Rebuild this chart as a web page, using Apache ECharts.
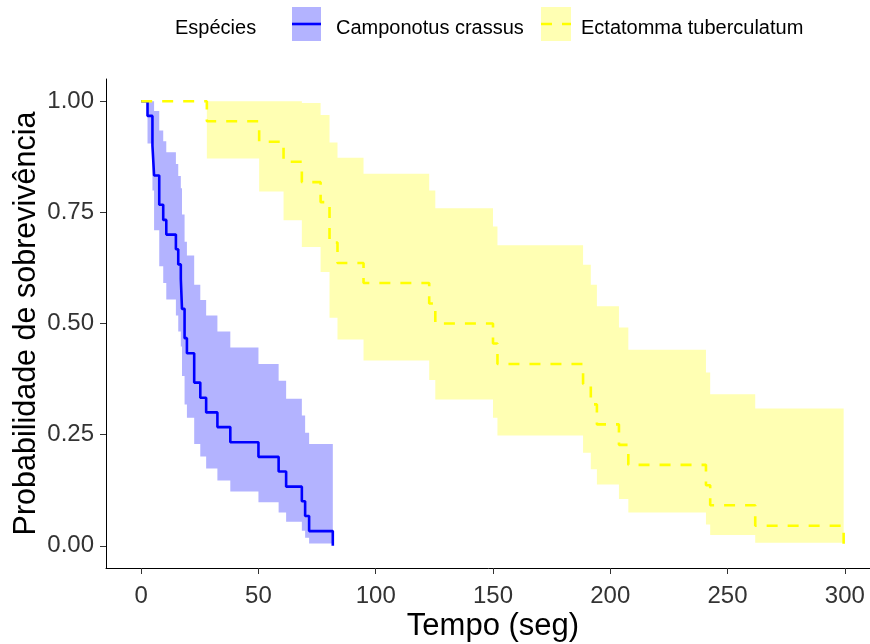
<!DOCTYPE html>
<html>
<head>
<meta charset="utf-8">
<script src="https://cdn.jsdelivr.net/npm/echarts@6/dist/echarts.min.js"></script>
<style>
  html, body { margin: 0; padding: 0; background: #ffffff; }
  #chart { width: 870px; height: 644px; }
</style>
</head>
<body>
<div id="chart"></div>
<script>
// ---- Data ----
const legendTitle = 'Espécies';
const seriesNames = ['Camponotus crassus', 'Ectatomma tuberculatum'];

// Camponotus crassus: Kaplan-Meier steps
const blueTimes = [0, 2.7, 4.8, 5.5, 7.7, 9.4, 10.7, 14.8, 15.8, 16.9, 17.4, 18.5, 19.5, 22.6, 25.2, 27.7, 32.5, 38.0, 50.0, 58.6, 61.8, 68.5, 69.9, 71.6, 81.7];
const blueSurv  = [1, 0.967, 0.9, 0.833, 0.767, 0.733, 0.7, 0.667, 0.633, 0.6, 0.533, 0.467, 0.433, 0.367, 0.333, 0.3, 0.267, 0.233, 0.2, 0.167, 0.133, 0.1, 0.067, 0.033, 0];
// confidence band, one value per interval starting at blueTimes[1..23]
const blueUpper = [1, 1, 0.978, 0.934, 0.910, 0.885, 0.859, 0.832, 0.804, 0.745, 0.684, 0.653, 0.587, 0.553, 0.518, 0.482, 0.446, 0.409, 0.371, 0.331, 0.293, 0.254, 0.229];
const blueLower = [0.905, 0.799, 0.710, 0.629, 0.591, 0.554, 0.518, 0.482, 0.448, 0.382, 0.318, 0.288, 0.229, 0.201, 0.174, 0.147, 0.122, 0.098, 0.075, 0.054, 0.034, 0.018, 0.005];

// Ectatomma tuberculatum: Kaplan-Meier steps
const yelTimes = [0, 28.0, 50.3, 60.7, 68.5, 76.5, 80.3, 83.7, 94.8, 122.8, 125.4, 150.0, 151.9, 188.4, 191.7, 194.3, 203.7, 207.7, 240.8, 242.6, 261.8, 299.5];
const yelSurv  = [1, 0.955, 0.909, 0.864, 0.818, 0.773, 0.682, 0.636, 0.591, 0.545, 0.5, 0.455, 0.409, 0.364, 0.318, 0.273, 0.227, 0.182, 0.136, 0.091, 0.045, 0];
// confidence band, one value per interval starting at yelTimes[1..20]
const yelUpper = [1, 1, 1, 0.996, 0.969, 0.907, 0.873, 0.837, 0.799, 0.759, 0.718, 0.676, 0.632, 0.587, 0.539, 0.491, 0.441, 0.390, 0.341, 0.309];
const yelLower = [0.871, 0.797, 0.732, 0.672, 0.616, 0.513, 0.464, 0.417, 0.373, 0.329, 0.288, 0.248, 0.209, 0.172, 0.138, 0.105, 0.075, 0.048, 0.024, 0.007];

// Axis ticks
const xTicks = [0, 50, 100, 150, 200, 250, 300];
const yTicks = [0, 0.25, 0.5, 0.75, 1];
const xTitle = 'Tempo (seg)';
const yTitle = 'Probabilidade de sobrevivência';

// ---- Styles ----
const BLUE = '#0000FF', BLUE_BAND = '#B3B3FF';
const YEL = '#FFFF00', YEL_BAND = '#FFFFB3';
const FONT = 'Liberation Sans, Arial, sans-serif';

function curve(times, surv) { return times.map((t, i) => [t, surv[i]]); }

// Band intervals: [tStart, tEnd, lower, upper]
function bandIntervals(times, lower, upper) {
  return upper.map((u, i) => [times[i + 1], times[i + 2], lower[i], u]);
}

// One polygon per band, every vertex mapped through the axis scales (api.coord)
function bandSeries(times, lower, upper, color) {
  const iv = bandIntervals(times, lower, upper);
  return {
    type: 'custom', silent: true, z: 1,
    data: [[iv[0][0], iv[0][2]]],
    encode: { x: 0, y: 1 },
    renderItem: function (params, api) {
      const pts = [];
      iv.forEach(d => { pts.push(api.coord([d[0], d[3]])); pts.push(api.coord([d[1], d[3]])); });
      for (let i = iv.length - 1; i >= 0; i--) {
        pts.push(api.coord([iv[i][1], iv[i][2]]));
        pts.push(api.coord([iv[i][0], iv[i][2]]));
      }
      return { type: 'polygon', shape: { points: pts }, style: { fill: color } };
    }
  };
}

const chart = echarts.init(document.getElementById('chart'), null, { renderer: 'canvas' });

const option = {
  animation: false,
  backgroundColor: '#ffffff',
  textStyle: { fontFamily: FONT },
  grid: { left: 106, top: 79, width: 774, height: 489, containLabel: false, outerBoundsMode: 'none' },
  xAxis: {
    type: 'value', min: -15, max: 315,
    name: xTitle, nameLocation: 'middle', nameGap: 43, nameMoveOverlap: false,
    nameTextStyle: { fontSize: 31, color: '#000', fontFamily: FONT },
    axisLine: { show: true, onZero: false, lineStyle: { color: '#000', width: 1 } },
    axisTick: { show: true, length: 6, customValues: xTicks, lineStyle: { color: '#333' } },
    axisLabel: { customValues: xTicks, fontSize: 24, color: '#333', margin: 16, fontFamily: FONT },
    splitLine: { show: false }
  },
  yAxis: {
    type: 'value', min: -0.05, max: 1.05,
    name: yTitle, nameLocation: 'middle', nameGap: 64, nameMoveOverlap: false,
    nameTextStyle: { fontSize: 30.5, color: '#000', fontFamily: FONT },
    axisLine: { show: true, onZero: false, lineStyle: { color: '#000', width: 1 } },
    axisTick: { show: true, length: 6, customValues: yTicks, lineStyle: { color: '#333' } },
    axisLabel: { customValues: yTicks, fontSize: 24, color: '#333', margin: 12, fontFamily: FONT,
                 formatter: v => v.toFixed(2) },
    splitLine: { show: false }
  },
  series: [
    bandSeries(blueTimes, blueLower, blueUpper, BLUE_BAND),
    bandSeries(yelTimes, yelLower, yelUpper, YEL_BAND),
    {
      name: seriesNames[0], type: 'line', step: 'end', symbol: 'none', silent: true,
      data: curve(blueTimes, blueSurv), lineStyle: { color: BLUE, width: 2.6 }, z: 3
    },
    {
      name: seriesNames[1], type: 'line', step: 'end', symbol: 'none', silent: true,
      data: curve(yelTimes, yelSurv), lineStyle: { color: YEL, width: 2.6, type: [11, 10] }, z: 3
    }
  ],
  graphic: [
    { type: 'text', left: 175, top: 18, style: { text: legendTitle, fontSize: 20, fill: '#000', fontFamily: FONT } },
    { type: 'rect', shape: { x: 292, y: 7, width: 29, height: 34 }, style: { fill: BLUE_BAND } },
    { type: 'line', shape: { x1: 292, y1: 24, x2: 321, y2: 24 }, style: { stroke: BLUE, lineWidth: 2.6 } },
    { type: 'text', left: 336, top: 18, style: { text: seriesNames[0], fontSize: 20, fill: '#000', fontFamily: FONT } },
    { type: 'rect', shape: { x: 541, y: 7, width: 30, height: 34 }, style: { fill: YEL_BAND } },
    { type: 'line', shape: { x1: 541, y1: 24, x2: 571, y2: 24 }, style: { stroke: YEL, lineWidth: 2.6, lineDash: [11, 10] } },
    { type: 'text', left: 581, top: 18, style: { text: seriesNames[1], fontSize: 20, fill: '#000', fontFamily: FONT } }
  ]
};
chart.setOption(option);
</script>
</body>
</html>
